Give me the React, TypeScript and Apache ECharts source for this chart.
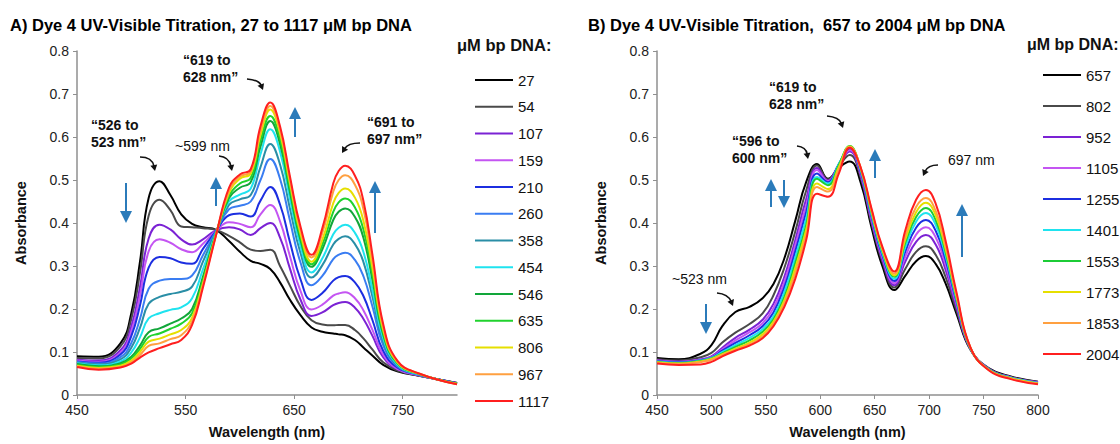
import React, { useEffect, useRef } from "react";
import * as echarts from "echarts";

// ---------- Panel A data (27 to 1117 µM bp DNA) ----------
const wavelengthsA = [450, 470, 490, 500, 508, 516, 526, 536, 546, 556, 566, 578, 590, 600, 610, 619, 628, 637, 646, 656, 666, 676, 686, 691, 697, 706, 714, 722, 732, 745, 765, 800];
const concA = ["27", "54", "107", "159", "210", "260", "358", "454", "546", "635", "806", "967", "1117"];
const colorsA = ["#000000", "#4a4a4a", "#7b22d4", "#c455f2", "#1c2ee0", "#3a7df2", "#2a8ea6", "#1fe3ef", "#12a63a", "#20d22e", "#e6df00", "#ffa040", "#ff1f1f"];
const A_27 = [0.090, 0.089, 0.120, 0.190, 0.310, 0.458, 0.497, 0.465, 0.420, 0.398, 0.390, 0.384, 0.358, 0.333, 0.312, 0.305, 0.293, 0.262, 0.222, 0.185, 0.157, 0.147, 0.143, 0.141, 0.139, 0.128, 0.110, 0.092, 0.070, 0.055, 0.045, 0.028];
const A_54 = [0.086, 0.085, 0.113, 0.177, 0.284, 0.417, 0.454, 0.430, 0.392, 0.390, 0.388, 0.384, 0.370, 0.355, 0.338, 0.335, 0.338, 0.300, 0.255, 0.206, 0.174, 0.164, 0.162, 0.163, 0.163, 0.151, 0.131, 0.106, 0.076, 0.057, 0.045, 0.028];
const A_107 = [0.082, 0.080, 0.104, 0.159, 0.251, 0.364, 0.396, 0.385, 0.362, 0.350, 0.362, 0.383, 0.390, 0.385, 0.372, 0.388, 0.400, 0.366, 0.295, 0.221, 0.184, 0.192, 0.209, 0.214, 0.216, 0.203, 0.176, 0.138, 0.088, 0.060, 0.046, 0.028];
const A_159 = [0.080, 0.077, 0.099, 0.148, 0.231, 0.334, 0.362, 0.354, 0.339, 0.332, 0.352, 0.382, 0.402, 0.398, 0.390, 0.420, 0.442, 0.404, 0.324, 0.241, 0.199, 0.210, 0.231, 0.236, 0.239, 0.225, 0.196, 0.152, 0.094, 0.061, 0.046, 0.027];
const A_210 = [0.078, 0.075, 0.094, 0.137, 0.208, 0.296, 0.321, 0.318, 0.308, 0.305, 0.340, 0.381, 0.418, 0.422, 0.415, 0.452, 0.484, 0.443, 0.357, 0.268, 0.221, 0.237, 0.266, 0.274, 0.277, 0.262, 0.229, 0.175, 0.103, 0.064, 0.047, 0.027];
const A_260 = [0.077, 0.073, 0.088, 0.121, 0.177, 0.247, 0.266, 0.270, 0.270, 0.278, 0.325, 0.380, 0.432, 0.440, 0.450, 0.500, 0.549, 0.503, 0.407, 0.307, 0.255, 0.277, 0.316, 0.326, 0.331, 0.314, 0.275, 0.207, 0.116, 0.067, 0.047, 0.027];
const A_358 = [0.075, 0.071, 0.083, 0.110, 0.156, 0.212, 0.228, 0.235, 0.240, 0.252, 0.310, 0.379, 0.442, 0.455, 0.465, 0.530, 0.584, 0.536, 0.435, 0.329, 0.273, 0.302, 0.350, 0.363, 0.369, 0.351, 0.308, 0.230, 0.125, 0.069, 0.048, 0.027];
const A_454 = [0.074, 0.069, 0.078, 0.099, 0.134, 0.178, 0.190, 0.198, 0.204, 0.225, 0.292, 0.377, 0.450, 0.466, 0.480, 0.560, 0.618, 0.566, 0.458, 0.345, 0.285, 0.318, 0.374, 0.389, 0.396, 0.377, 0.331, 0.246, 0.132, 0.071, 0.048, 0.026];
const A_546 = [0.072, 0.067, 0.074, 0.089, 0.115, 0.146, 0.155, 0.166, 0.178, 0.200, 0.275, 0.375, 0.458, 0.482, 0.495, 0.578, 0.637, 0.584, 0.474, 0.359, 0.298, 0.339, 0.407, 0.426, 0.434, 0.414, 0.364, 0.269, 0.141, 0.074, 0.049, 0.026];
const A_635 = [0.070, 0.065, 0.071, 0.085, 0.107, 0.135, 0.143, 0.154, 0.166, 0.190, 0.267, 0.374, 0.463, 0.492, 0.505, 0.592, 0.649, 0.596, 0.483, 0.366, 0.304, 0.350, 0.426, 0.448, 0.457, 0.436, 0.383, 0.283, 0.146, 0.075, 0.049, 0.026];
const A_806 = [0.068, 0.063, 0.068, 0.080, 0.100, 0.124, 0.131, 0.141, 0.151, 0.180, 0.260, 0.373, 0.470, 0.503, 0.515, 0.605, 0.664, 0.609, 0.494, 0.374, 0.310, 0.361, 0.446, 0.470, 0.480, 0.459, 0.403, 0.297, 0.152, 0.076, 0.049, 0.026];
const A_967 = [0.067, 0.061, 0.065, 0.076, 0.093, 0.114, 0.120, 0.130, 0.139, 0.172, 0.255, 0.372, 0.475, 0.508, 0.520, 0.615, 0.672, 0.617, 0.503, 0.383, 0.320, 0.377, 0.473, 0.500, 0.511, 0.489, 0.430, 0.315, 0.159, 0.078, 0.050, 0.025];
const A_1117 = [0.065, 0.059, 0.064, 0.073, 0.087, 0.099, 0.109, 0.118, 0.128, 0.163, 0.250, 0.371, 0.482, 0.513, 0.525, 0.625, 0.680, 0.625, 0.510, 0.390, 0.326, 0.388, 0.492, 0.521, 0.533, 0.510, 0.449, 0.328, 0.165, 0.080, 0.050, 0.025];
const valuesA = [A_27, A_54, A_107, A_159, A_210, A_260, A_358, A_454, A_546, A_635, A_806, A_967, A_1117];

// ---------- Panel B data (657 to 2004 µM bp DNA) ----------
const wavelengthsB = [450, 470, 490, 500, 510, 522, 535, 547, 557, 567, 577, 587, 597, 607, 617, 627, 637, 647, 657, 668, 678, 688, 697, 706, 715, 725, 738, 755, 775, 800];
const concB = ["657", "802", "952", "1105", "1255", "1401", "1553", "1773", "1853", "2004"];
const colorsB = ["#000000", "#4a4a4a", "#7b22d4", "#c455f2", "#1c2ee0", "#1fe3ef", "#1ccc36", "#e6df00", "#ffa040", "#ff1f1f"];
const B_657 = [0.086, 0.083, 0.096, 0.116, 0.160, 0.193, 0.205, 0.225, 0.258, 0.318, 0.405, 0.495, 0.537, 0.503, 0.528, 0.543, 0.495, 0.390, 0.300, 0.244, 0.277, 0.311, 0.323, 0.305, 0.260, 0.190, 0.105, 0.062, 0.043, 0.031];
const B_802 = [0.083, 0.080, 0.088, 0.098, 0.122, 0.145, 0.165, 0.190, 0.232, 0.296, 0.380, 0.475, 0.534, 0.501, 0.532, 0.558, 0.507, 0.400, 0.310, 0.250, 0.293, 0.333, 0.346, 0.326, 0.275, 0.198, 0.106, 0.061, 0.042, 0.030];
const B_952 = [0.081, 0.078, 0.083, 0.090, 0.110, 0.133, 0.152, 0.175, 0.212, 0.275, 0.360, 0.455, 0.528, 0.499, 0.535, 0.566, 0.512, 0.405, 0.315, 0.255, 0.310, 0.356, 0.372, 0.350, 0.292, 0.206, 0.107, 0.061, 0.041, 0.030];
const B_1105 = [0.080, 0.077, 0.082, 0.088, 0.106, 0.127, 0.146, 0.167, 0.202, 0.263, 0.348, 0.440, 0.523, 0.497, 0.536, 0.570, 0.516, 0.410, 0.320, 0.260, 0.321, 0.373, 0.390, 0.367, 0.304, 0.212, 0.107, 0.060, 0.041, 0.029];
const B_1255 = [0.079, 0.076, 0.081, 0.087, 0.103, 0.121, 0.139, 0.160, 0.192, 0.251, 0.334, 0.425, 0.515, 0.495, 0.537, 0.574, 0.520, 0.415, 0.325, 0.265, 0.333, 0.389, 0.407, 0.382, 0.315, 0.218, 0.108, 0.060, 0.040, 0.028];
const B_1401 = [0.078, 0.075, 0.080, 0.086, 0.100, 0.116, 0.133, 0.153, 0.183, 0.240, 0.320, 0.410, 0.507, 0.492, 0.537, 0.578, 0.524, 0.420, 0.330, 0.270, 0.343, 0.403, 0.423, 0.396, 0.325, 0.223, 0.108, 0.059, 0.040, 0.028];
const B_1553 = [0.077, 0.074, 0.079, 0.085, 0.097, 0.112, 0.127, 0.147, 0.176, 0.228, 0.307, 0.395, 0.503, 0.488, 0.535, 0.579, 0.527, 0.425, 0.335, 0.275, 0.353, 0.414, 0.435, 0.407, 0.333, 0.227, 0.109, 0.059, 0.039, 0.027];
const B_1773 = [0.076, 0.073, 0.078, 0.084, 0.095, 0.108, 0.122, 0.141, 0.170, 0.220, 0.295, 0.384, 0.492, 0.479, 0.530, 0.578, 0.528, 0.428, 0.338, 0.278, 0.361, 0.425, 0.447, 0.418, 0.341, 0.231, 0.109, 0.058, 0.039, 0.027];
const B_1853 = [0.075, 0.072, 0.077, 0.082, 0.093, 0.105, 0.118, 0.136, 0.165, 0.213, 0.283, 0.372, 0.484, 0.473, 0.525, 0.577, 0.529, 0.431, 0.341, 0.282, 0.370, 0.437, 0.458, 0.428, 0.348, 0.234, 0.110, 0.058, 0.038, 0.026];
const B_2004 = [0.073, 0.070, 0.071, 0.077, 0.090, 0.103, 0.115, 0.132, 0.160, 0.205, 0.270, 0.360, 0.468, 0.461, 0.515, 0.575, 0.530, 0.434, 0.345, 0.287, 0.382, 0.454, 0.477, 0.445, 0.360, 0.240, 0.110, 0.057, 0.037, 0.025];
const valuesB = [B_657, B_802, B_952, B_1105, B_1255, B_1401, B_1553, B_1773, B_1853, B_2004];

// ---------- axis ticks ----------
const xLabelsA = [450, 550, 650, 750];
const yMin = 0;
const yMax = 0.8;
const yStep = 0.1;

const FONT = 'Arial, "Liberation Sans", Helvetica, sans-serif';
const BLUE = "#2b7bba";
const AXIS_COLOR = "#8f8f8f";
const LABEL_COLOR = "#222222";

function blueArrow(x: number, yFrom: number, yTo: number) {
  const dir = yTo < yFrom ? -1 : 1;
  const headLen = 12;
  const half = 6;
  return [
    { type: "line", silent: true, shape: { x1: x, y1: yFrom, x2: x, y2: yTo - dir * (headLen - 2) }, style: { stroke: BLUE, lineWidth: 2 } },
    { type: "polygon", silent: true, shape: { points: [[x, yTo], [x - half, yTo - dir * headLen], [x + half, yTo - dir * headLen]] }, style: { fill: BLUE } },
  ];
}

function curvedArrow(x1: number, y1: number, cx: number, cy: number, x2: number, y2: number) {
  const dx = x2 - cx;
  const dy = y2 - cy;
  const len = Math.sqrt(dx * dx + dy * dy) || 1;
  const ux = dx / len;
  const uy = dy / len;
  const hl = 6;
  const hw = 3.5;
  const bx = x2 - ux * hl;
  const by = y2 - uy * hl;
  return [
    { type: "bezierCurve", silent: true, shape: { x1, y1, cpx1: cx, cpy1: cy, x2: bx + ux * 1, y2: by + uy * 1 }, style: { stroke: "#111", lineWidth: 1.6, fill: null } },
    { type: "polygon", silent: true, shape: { points: [[x2, y2], [bx - uy * hw, by + ux * hw], [bx + uy * hw, by - ux * hw]] }, style: { fill: "#111" } },
  ];
}

function label(text: string, x: number, yTop: number, bold: boolean, size = 14) {
  return {
    type: "text",
    silent: true,
    x,
    y: yTop,
    style: {
      text,
      fill: "#111",
      fontSize: size,
      fontWeight: bold ? "bold" : "normal",
      fontFamily: FONT,
      lineHeight: 17,
      align: "left",
      verticalAlign: "top",
    },
  };
}

function xAxisBase(gridIndex: number) {
  return {
    gridIndex,
    type: "value",
    min: 450,
    max: 800,
    name: "Wavelength (nm)",
    nameLocation: "middle",
    nameGap: 29,
    nameTextStyle: { fontSize: 14.5, fontWeight: "bold", color: "#111", fontFamily: FONT },
    axisLine: { show: true, lineStyle: { color: AXIS_COLOR, width: 1.5 } },
    splitLine: { show: false },
  };
}

function yAxisBase(gridIndex: number) {
  return {
    gridIndex,
    type: "value",
    min: yMin,
    max: yMax,
    interval: yStep,
    name: "Absorbance",
    nameLocation: "middle",
    nameGap: 49,
    nameTextStyle: { fontSize: 14.5, fontWeight: "bold", color: "#111", fontFamily: FONT },
    axisLine: { show: true, lineStyle: { color: AXIS_COLOR, width: 1.5 } },
    axisTick: { show: true, length: 4, lineStyle: { color: AXIS_COLOR } },
    axisLabel: { fontSize: 14, color: LABEL_COLOR, fontFamily: FONT, margin: 8 },
    splitLine: { show: false },
  };
}

export default function App() {
  const ref = useRef<HTMLDivElement>(null);

  useEffect(() => {
    if (!ref.current) return;
    const chart = echarts.init(ref.current, null, { renderer: "svg" });

    const seriesA = concA.map((name, k) => ({
      name,
      type: "line",
      xAxisIndex: 0,
      yAxisIndex: 0,
      data: wavelengthsA.map((w, i) => [w, valuesA[k][i]]),
      smooth: 0.45,
      symbol: "none",
      showSymbol: false,
      lineStyle: { width: 2, color: colorsA[k] },
      itemStyle: { color: colorsA[k] },
      z: 2 + k,
    }));
    const seriesB = concB.map((name, k) => ({
      name,
      type: "line",
      xAxisIndex: 1,
      yAxisIndex: 1,
      data: wavelengthsB.map((w, i) => [w, valuesB[k][i]]),
      smooth: 0.45,
      symbol: "none",
      showSymbol: false,
      lineStyle: { width: 2, color: colorsB[k] },
      itemStyle: { color: colorsB[k] },
      z: 2 + k,
    }));

    const graphics: any[] = [
      // legend headers
      label("\u03bcM bp DNA:", 457, 36, true, 16.5),
      label("\u03bcM bp DNA:", 1027, 36, true, 16),
      // panel A annotations
      label("\u201c526 to\n523 nm\u201d", 91, 116, true),
      ...curvedArrow(140, 157, 152, 157, 155, 171),
      label("~599 nm", 175, 137, false),
      ...curvedArrow(219, 156, 229, 157, 232, 171),
      label("\u201c619 to\n628 nm\u201d", 183, 51, true),
      ...curvedArrow(247, 79, 259, 80, 263, 90),
      label("\u201c691 to\n697 nm\u201d", 367, 113, true),
      ...curvedArrow(360, 143, 348, 143, 342, 153),
      ...blueArrow(126, 183, 223),
      ...blueArrow(216, 206, 177),
      ...blueArrow(295, 137, 107),
      ...blueArrow(375, 233, 181),
      // panel B annotations
      label("\u201c619 to\n628 nm\u201d", 769, 78, true),
      ...curvedArrow(827, 116, 839, 117, 843, 128),
      label("\u201c596 to\n600 nm\u201d", 732, 132, true),
      ...curvedArrow(797, 146, 806, 147, 808, 159),
      label("697 nm", 948, 151, false),
      ...curvedArrow(938, 165, 928, 165, 923, 176),
      label("~523 nm", 672, 270, false),
      ...curvedArrow(717, 293, 728, 294, 733, 306),
      ...blueArrow(771, 207, 179),
      ...blueArrow(784, 180, 208),
      ...blueArrow(875, 178, 149),
      ...blueArrow(962, 257, 204),
      ...blueArrow(706, 304, 334),
    ];

    chart.setOption({
      animation: false,
      backgroundColor: "#ffffff",
      textStyle: { fontFamily: FONT },
      title: [
        {
          text: "A) Dye 4 UV-Visible Titration, 27 to 1117 \u03bcM bp DNA",
          left: 10,
          top: 16,
          padding: 0,
          textStyle: { fontSize: 16.5, fontWeight: "bold", color: "#000", fontFamily: FONT },
        },
        {
          text: "B) Dye 4 UV-Visible Titration,  657 to 2004 \u03bcM bp DNA",
          left: 588,
          top: 16,
          padding: 0,
          textStyle: { fontSize: 16.5, fontWeight: "bold", color: "#000", fontFamily: FONT },
        },
      ],
      grid: [
        { left: 77, top: 51, width: 380, height: 348, containLabel: false },
        { left: 657, top: 51, width: 381, height: 348, containLabel: false },
      ],
      xAxis: [
        {
          ...xAxisBase(0),
          axisTick: { show: true, length: 4, customValues: xLabelsA, lineStyle: { color: AXIS_COLOR } },
          axisLabel: { customValues: xLabelsA, fontSize: 14, color: LABEL_COLOR, fontFamily: FONT, margin: 8 },
        },
        {
          ...xAxisBase(1),
          interval: 50,
          axisTick: { show: true, length: 4, lineStyle: { color: AXIS_COLOR } },
          axisLabel: { fontSize: 14, color: LABEL_COLOR, fontFamily: FONT, margin: 8 },
        },
      ],
      yAxis: [yAxisBase(0), yAxisBase(1)],
      legend: [
        {
          data: concA,
          orient: "vertical",
          left: 475,
          top: 72,
          padding: 0,
          icon: "rect",
          itemWidth: 38,
          itemHeight: 2,
          itemGap: 10.75,
          selectedMode: false,
          textStyle: { fontSize: 15, color: "#111", lineHeight: 16, fontFamily: FONT },
        },
        {
          data: concB,
          orient: "vertical",
          left: 1043,
          top: 67,
          padding: 0,
          icon: "rect",
          itemWidth: 38,
          itemHeight: 2,
          itemGap: 15,
          selectedMode: false,
          textStyle: { fontSize: 15, color: "#111", lineHeight: 16, fontFamily: FONT },
        },
      ],
      series: [...seriesA, ...seriesB],
      graphic: graphics,
    });

    return () => chart.dispose();
  }, []);

  return (
    <div
      ref={ref}
      style={{ position: "absolute", left: 0, top: 0, width: 1120, height: 444, background: "#fff" }}
    />
  );
}
